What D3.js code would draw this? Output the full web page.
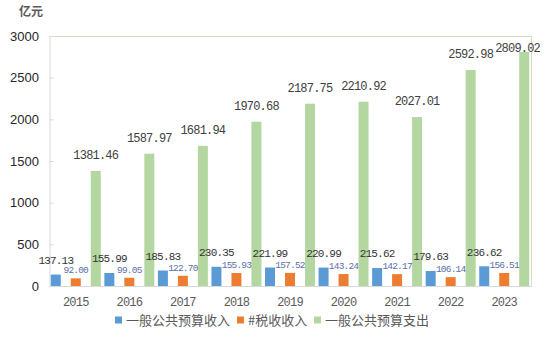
<!DOCTYPE html>
<html>
<head>
<meta charset="utf-8">
<script src="https://cdn.jsdelivr.net/npm/d3@7"></script>
<style>
  html, body { margin: 0; padding: 0; background: #ffffff; }
  svg { display: block; }
</style>
</head>
<body>
<svg id="chart" width="551" height="344"></svg>
<script>
// Annual budget figures, 亿元
const years = ["2015", "2016", "2017", "2018", "2019", "2020", "2021", "2022", "2023"];
const revenue = [137.13, 155.99, 185.83, 230.35, 221.99, 220.99, 215.62, 179.63, 236.62];
const taxRevenue = [92.00, 99.05, 122.70, 155.93, 157.52, 143.24, 142.17, 106.14, 156.51];
const expenditure = [1381.46, 1587.97, 1681.94, 1970.68, 2187.75, 2210.92, 2027.01, 2592.98, 2809.02];
const seriesNames = ["一般公共预算收入", "#税收收入", "一般公共预算支出"];
const yTicks = [0, 500, 1000, 1500, 2000, 2500, 3000];

const colors = ["#5b9bd5", "#ed7d31", "#b4d6a0"];
const labelStyle = [
  { size: 11, spacing: -0.8, color: "#333333", gap: 14.5 },
  { size: 9.5, spacing: -0.8, color: "#5b6fa8", gap: 8.5 },
  { size: 12, spacing: -0.8, color: "#404040", gap: 16 }
];
const seriesValues = [revenue, taxRevenue, expenditure];

const svg = d3.select("#chart");
const plot = { left: 49, right: 531, top: 36, bottom: 286 };

const x = d3.scaleBand().domain(years).range([plot.left, plot.right]).padding(0);
const xs = d3.scaleBand().domain([0, 1, 2]).range([0, x.bandwidth()])
  .paddingInner(0.5).paddingOuter(0.09);
const y = d3.scaleLinear().domain([0, 3000]).range([plot.bottom, plot.top]);

// Frame: top and right edges
svg.append("path")
  .attr("d", `M${plot.left},${plot.top + 0.5}H${plot.right + 0.5}V${plot.bottom}`)
  .attr("fill", "none").attr("stroke", "#ddd9c3").attr("stroke-width", 1);

// Y axis with short inward ticks
const yAxis = svg.append("g").attr("transform", `translate(${plot.left + 0.5},0)`)
  .call(d3.axisRight(y).tickValues(yTicks).tickSize(4).tickFormat(""));
yAxis.select(".domain").attr("stroke", "#d9d9d9");
yAxis.selectAll(".tick line").attr("stroke", "#d9d9d9");

svg.append("g").selectAll("text").data(yTicks).join("text")
  .attr("x", 39).attr("y", d => y(d))
  .attr("dy", "0.36em").attr("text-anchor", "end")
  .attr("font-family", "Liberation Sans, Arial, sans-serif")
  .attr("font-size", 13).attr("fill", "#262626")
  .text(d => d);

// Unit label
svg.append("text")
  .attr("x", 31).attr("y", 12).attr("dy", "0.36em").attr("text-anchor", "middle")
  .attr("font-family", "Noto Sans CJK SC, sans-serif")
  .attr("font-size", 12).attr("font-weight", "bold").attr("fill", "#595959")
  .text("亿元");

// Bars
seriesValues.forEach((vals, si) => {
  svg.append("g").selectAll("rect").data(vals).join("rect")
    .attr("x", (d, i) => x(years[i]) + xs(si))
    .attr("width", xs.bandwidth())
    .attr("y", d => y(d))
    .attr("height", d => plot.bottom - y(d))
    .attr("fill", colors[si]);
});

// X axis line
svg.append("line")
  .attr("x1", plot.left).attr("x2", plot.right + 1)
  .attr("y1", plot.bottom + 0.5).attr("y2", plot.bottom + 0.5)
  .attr("stroke", "#d9d9d9");

// Year labels
svg.append("g").selectAll("text").data(years).join("text")
  .attr("x", d => x(d) + x.bandwidth() / 2).attr("y", 302)
  .attr("dy", "0.36em").attr("text-anchor", "middle")
  .attr("font-family", "Liberation Mono, monospace")
  .attr("font-size", 12).attr("letter-spacing", -0.8).attr("fill", "#595959")
  .text(d => d);

// Value labels, kept inside the plot frame
seriesValues.forEach((vals, si) => {
  const st = labelStyle[si];
  const g = svg.append("g");
  vals.forEach((v, i) => {
    const t = g.append("text")
      .attr("text-anchor", "middle").attr("dy", "0.36em")
      .attr("font-family", "Liberation Mono, monospace")
      .attr("font-size", st.size).attr("letter-spacing", st.spacing)
      .attr("fill", st.color)
      .text(v.toFixed(2));
    let cx = x(years[i]) + xs(si) + xs.bandwidth() / 2;
    let cy = Math.max(y(v) - st.gap, plot.top + 12);
    const w = t.node().getComputedTextLength();
    if (cx + w / 2 > 540) cx = 540 - w / 2;
    t.attr("x", cx).attr("y", cy);
  });
});

// Legend
const legend = svg.append("g").attr("font-family", "Noto Sans CJK SC, sans-serif")
  .attr("font-size", 13).attr("fill", "#595959");
const legendX = [115, 237, 314];
seriesNames.forEach((name, i) => {
  legend.append("rect").attr("x", legendX[i]).attr("y", 316.5)
    .attr("width", 7).attr("height", 7).attr("fill", colors[i]);
  legend.append("text").attr("x", legendX[i] + 11).attr("y", 320)
    .attr("dy", "0.36em").attr("fill", "#595959").text(name);
});
</script>
</body>
</html>
